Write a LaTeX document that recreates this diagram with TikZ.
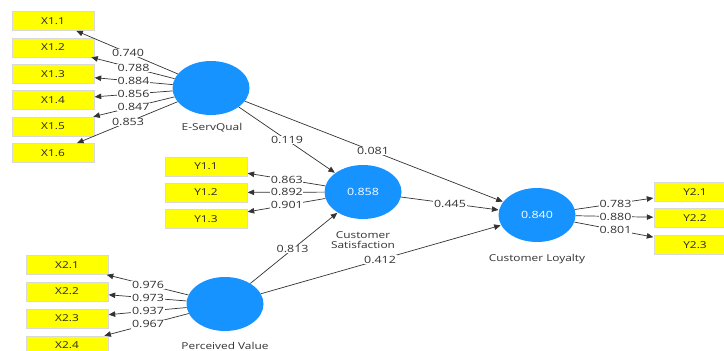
\documentclass[tikz,border=0pt]{standalone}
\usepackage{fontspec}
\setmainfont{Open Sans}[FakeStretch=1.25]
\usetikzlibrary{shapes.geometric,arrows.meta,calc}
\definecolor{lvblue}{RGB}{22,147,255}
\definecolor{mvyellow}{RGB}{255,255,0}
\definecolor{txt}{RGB}{50,50,50}
\tikzset{
  mv/.style={rectangle,fill=mvyellow,draw=black!15,line width=0.4pt,minimum width=82pt,minimum height=19pt,inner sep=0pt,font=\fontsize{9.5}{10}\selectfont,text=black!85},
  lv/.style={ellipse,fill=lvblue,minimum width=77pt,minimum height=54pt,inner sep=0pt,text=white,font=\fontsize{10}{11}\selectfont},
  lvname/.style={text=txt,font=\fontsize{9.5}{11}\selectfont,align=center,inner sep=0pt},
  arr/.style={draw=black!80,line width=0.7pt,-{Triangle[length=6.5pt,width=5.5pt]},shorten >=0.5pt},
  lbl/.style={fill=white,inner sep=0.6pt,text=txt,font=\fontsize{10}{10}\selectfont}
}
\begin{document}
\begin{tikzpicture}[x=1pt,y=-1pt]
\useasboundingbox[fill=white] (0,0) rectangle (724,351);
% latent variables
\node[lv] (ES) at (211,88) {};
\node[lv] (CS) at (363,192) {0.858};
\node[lv] (CL) at (537,215) {0.840};
\node[lv] (PV) at (225,304) {};
\node[lvname] (ESn) at (212,128) {E-ServQual};
\node[lvname] (CSn) at (363,240) {Customer\\[-1.5pt]Satisfaction};
\node[lvname] (CLn) at (537,259) {Customer Loyalty};
\node[lvname] (PVn) at (225,346) {Perceived Value};
% indicators
\node[mv] (x11) at (53,21) {X1.1};
\node[mv] (x12) at (53,47.5) {X1.2};
\node[mv] (x13) at (53,74) {X1.3};
\node[mv] (x14) at (53,100) {X1.4};
\node[mv] (x15) at (53,126.5) {X1.5};
\node[mv] (x16) at (53,153) {X1.6};
\node[mv] (y11) at (206,166.5) {Y1.1};
\node[mv] (y12) at (206,192.5) {Y1.2};
\node[mv] (y13) at (206,219) {Y1.3};
\node[mv] (x21) at (67,265) {X2.1};
\node[mv] (x22) at (67,291.5) {X2.2};
\node[mv] (x23) at (67,318.5) {X2.3};
\node[mv] (x24) at (67,345.5) {X2.4};
\node[mv] (y21) at (695,192) {Y2.1};
\node[mv] (y22) at (695,218) {Y2.2};
\node[mv] (y23) at (695,245) {Y2.3};
% outer model connectors
\foreach \t in {x11,x12,x13,x14,x15,x16} \draw[arr] (ES) -- (\t);
\foreach \t in {y11,y12,y13} \draw[arr] (CS) -- (\t);
\foreach \t in {x21,x22,x23,x24} \draw[arr] (PV) -- (\t);
\foreach \t in {y21,y22,y23} \draw[arr] (CL) -- (\t);
% inner model connectors
\draw[arr] (ES) -- (CS);
\draw[arr] (ES) -- (CL);
\draw[arr] (CS) -- (CL);
\draw[arr] (PV) -- (CS);
\draw[arr] (PV) -- (CL);
% labels
\path ($(ES)!0.525!(x11)$) node[lbl] {0.740};
\path ($(ES)!0.49!(x12)$) node[lbl] {0.788};
\path ($(ES)!0.49!(x13)$) node[lbl] {0.884};
\path ($(ES)!0.49!(x14)$) node[lbl] {0.856};
\path ($(ES)!0.49!(x15)$) node[lbl] {0.847};
\path ($(ES)!0.525!(x16)$) node[lbl] {0.853};
\path ($(CS)!0.485!(y11)$) node[lbl] {0.863};
\path ($(CS)!0.485!(y12)$) node[lbl] {0.892};
\path ($(CS)!0.485!(y13)$) node[lbl] {0.901};
\path ($(PV)!0.487!(x21)$) node[lbl] {0.976};
\path ($(PV)!0.487!(x22)$) node[lbl] {0.973};
\path ($(PV)!0.487!(x23)$) node[lbl] {0.937};
\path ($(PV)!0.487!(x24)$) node[lbl] {0.967};
\path ($(CL)!0.497!(y21)$) node[lbl] {0.783};
\path ($(CL)!0.497!(y22)$) node[lbl] {0.880};
\path ($(CL)!0.497!(y23)$) node[lbl] {0.801};
\path ($(ES)!0.5!(CS)$) node[lbl] {0.119};
\path ($(ES)!0.497!(CL)$) node[lbl] {0.081};
\path ($(CS)!0.5!(CL)$) node[lbl] {0.445};
\path ($(PV)!0.49!(CS)$) node[lbl] {0.813};
\path ($(PV)!0.497!(CL)$) node[lbl] {0.412};
\end{tikzpicture}
\end{document}
